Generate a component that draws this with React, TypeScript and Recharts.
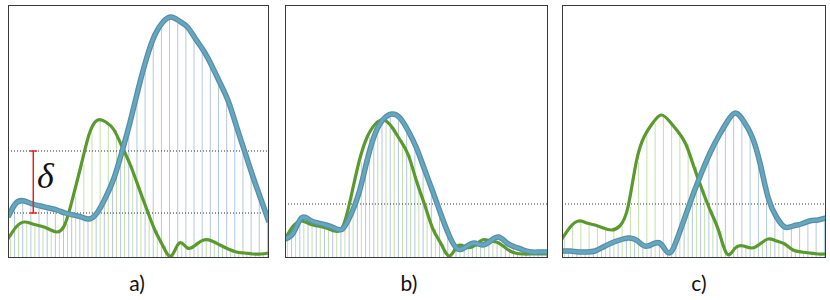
import React from 'react';
import { ComposedChart, Line, Bar, XAxis, YAxis, ReferenceLine } from 'recharts';

// heights above the panel floor, 33 samples per panel
const blueA = [41, 55, 57, 54, 52, 50, 48, 45, 43, 41, 39, 46, 61, 80, 107, 137, 170, 200, 223, 236, 241, 237, 231, 219, 207, 192, 175, 157, 132, 107, 82, 59, 36];
const greenA = [19, 31, 36, 34, 32, 29, 26, 34, 62, 94, 125, 138, 136, 128, 111, 93, 71, 49, 28, 12, 2, 15, 10, 13, 18, 17, 13, 9, 6, 5, 4, 4, 5];

const blueB = [19, 25, 40, 38, 35, 33, 30, 29, 43, 65, 98, 125, 139, 144, 140, 127, 110, 88, 66, 43, 22, 9, 11, 15, 13, 17, 21, 15, 11, 8, 6, 6, 6];
const greenB = [19, 32, 37, 34, 32, 30, 27, 31, 60, 96, 121, 134, 138, 131, 118, 103, 77, 53, 29, 14, 2, 12, 11, 12, 18, 17, 15, 9, 5, 4, 4, 4, 4];

const blueC = [7, 7, 6, 6, 7, 11, 15, 18, 20, 18, 12, 14, 14, 5, 20, 43, 66, 87, 106, 122, 136, 145, 137, 122, 95, 60, 41, 31, 32, 34, 37, 38, 40];
const greenC = [19, 31, 37, 35, 33, 30, 28, 32, 51, 96, 122, 135, 143, 137, 127, 114, 91, 68, 47, 27, 4, 10, 12, 10, 14, 19, 17, 14, 8, 6, 5, 4, 4];

const thresholdsA = [107, 45];
const thresholdsB = [54];
const thresholdsC = [54];
const labels = ['a)', 'b)', 'c)'];

const H = 253;
const BLUE = '#66a7c0';
const BLUE_EDGE = '#568fa8';
const GREEN = '#5a9a2c';
const BLUE_STEM = '#b4c8de';
const GREEN_STEM = '#c2e0ae';

const toRows = (blue: number[], green: number[]) =>
  blue.map((b, i) => ({ i, blue: b, green: green[i] }));

type PanelProps = {
  left: number;
  width: number;
  blue: number[];
  green: number[];
  thresholds: number[];
  label: string;
  labelX: number;
  delta?: boolean;
};

function Panel({ left, width, blue, green, thresholds, label, labelX, delta }: PanelProps) {
  const rows = toRows(blue, green);
  return (
    <>
      <div style={{ position: 'absolute', left, top: 5 }}>
        <ComposedChart width={width} height={H} data={rows} margin={{ top: 0, right: 0, bottom: 0, left: 0 }} barGap={3}>
          <XAxis type="number" dataKey="i" domain={[0, blue.length - 1]} hide />
          <YAxis domain={[0, H]} hide allowDataOverflow />
          <Bar dataKey="blue" barSize={1} fill={BLUE_STEM} isAnimationActive={false} />
          <Bar dataKey="green" barSize={1} fill={GREEN_STEM} isAnimationActive={false} />
          {thresholds.map(t => (
            <ReferenceLine key={`t-${t}`} y={t} stroke="#333" strokeDasharray="1 2" strokeWidth={1} />
          ))}
          <Line type="natural" dataKey="green" stroke={GREEN} strokeWidth={3.2} dot={false} isAnimationActive={false} />
          <Line type="natural" dataKey="blue" stroke={BLUE_EDGE} strokeWidth={5.5} dot={false} isAnimationActive={false} />
          <Line type="natural" dataKey="blue" stroke={BLUE} strokeWidth={3} dot={false} isAnimationActive={false} />
          {delta && (
            <ReferenceLine segment={[{ x: 3.1, y: thresholds[1] }, { x: 3.1, y: thresholds[0] }]} stroke="#e8231e" strokeWidth={1.5} />
          )}
          {delta && (
            <ReferenceLine segment={[{ x: 2.65, y: thresholds[1] }, { x: 3.55, y: thresholds[1] }]} stroke="#e8231e" strokeWidth={1.5} />
          )}
          {delta && (
            <ReferenceLine segment={[{ x: 2.65, y: thresholds[0] }, { x: 3.55, y: thresholds[0] }]} stroke="#e8231e" strokeWidth={1.5} />
          )}
        </ComposedChart>
      </div>
      <div
        style={{
          position: 'absolute',
          left,
          top: 5,
          width,
          height: H,
          boxSizing: 'border-box',
          border: '1px solid #3a3a3a',
          pointerEvents: 'none',
        }}
      />
      {delta && (
        <div style={{ position: 'absolute', left: 37, top: 156, fontFamily: '"Liberation Serif", serif', fontStyle: 'italic', fontSize: 36, lineHeight: '40px', color: '#111' }}>
          δ
        </div>
      )}
      <div
        style={{
          position: 'absolute',
          left: labelX - 30,
          top: 270,
          width: 60,
          textAlign: 'center',
          fontFamily: 'Lato, sans-serif',
          fontSize: 21,
          lineHeight: '26px',
          color: '#111',
        }}
      >
        {label}
      </div>
    </>
  );
}

export default function App() {
  return (
    <div style={{ position: 'absolute', left: 0, top: 0, width: 830, height: 300, background: '#fff' }}>
      <Panel left={8} width={261} blue={blueA} green={greenA} thresholds={thresholdsA} label={labels[0]} labelX={137} delta />
      <Panel left={285} width={263} blue={blueB} green={greenB} thresholds={thresholdsB} label={labels[1]} labelX={409} />
      <Panel left={562} width={264} blue={blueC} green={greenC} thresholds={thresholdsC} label={labels[2]} labelX={699} />
    </div>
  );
}
